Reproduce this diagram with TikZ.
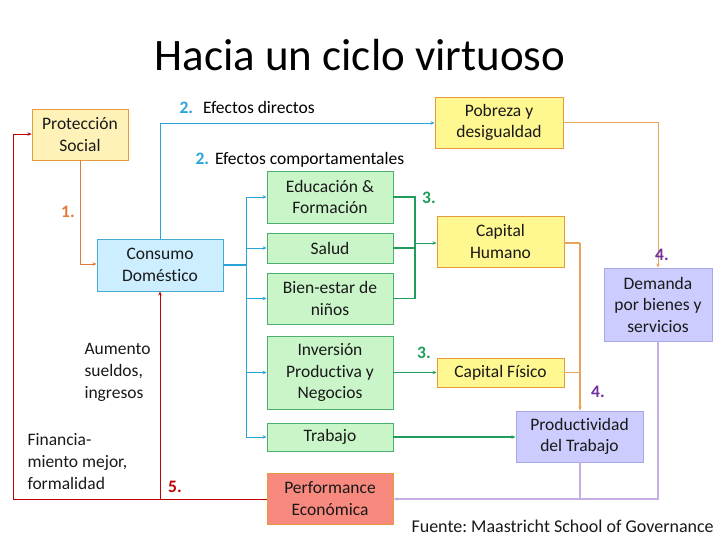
\documentclass[tikz,border=0pt]{standalone}
\usepackage{fontspec}
\setmainfont{Carlito}[Ligatures=NoCommon]
\usetikzlibrary{arrows.meta}
\frenchspacing
\definecolor{yfillA}{HTML}{FFF2B8}
\definecolor{yfill}{HTML}{FFF78F}
\definecolor{oborder}{HTML}{E69A3C}
\definecolor{gfill}{HTML}{C9F5C9}
\definecolor{gborder}{HTML}{4CB070}
\definecolor{bfill}{HTML}{CCEEFF}
\definecolor{bborder}{HTML}{45ABD2}
\definecolor{rfill}{HTML}{F8897E}
\definecolor{lfill}{HTML}{CCCCFF}
\definecolor{lborder}{HTML}{A8A8E8}
\definecolor{bline}{HTML}{2AA4D8}
\definecolor{gline}{HTML}{1E9E5A}
\definecolor{oline}{HTML}{E8A458}
\definecolor{o1line}{HTML}{E07B39}
\definecolor{rline}{HTML}{C00000}
\definecolor{pline}{HTML}{C4AEE2}
\definecolor{plabel}{HTML}{7030A0}
\begin{document}
\begin{tikzpicture}[x=1pt,y=-1pt,
  box/.style={draw, line width=0.9pt, inner sep=0pt, align=center, font=\fontsize{17.5}{21.5}\selectfont, text=black!90},
  ybox/.style={box, fill=yfill, draw=oborder},
  gbox/.style={box, fill=gfill, draw=gborder},
  lbox/.style={box, fill=lfill, draw=lborder},
  conn/.style={line width=0.9pt, -{Stealth[length=4pt,width=3.5pt]}},
  plain/.style={line width=0.9pt},
  num/.style={font=\fontsize{17.5}{20}\selectfont\bfseries},
  lbl/.style={font=\fontsize{17.5}{22}\selectfont, text=black!90}]
\useasboundingbox (0,0) rectangle (720,540);
\node[font=\fontsize{45}{50}\selectfont] (title) at (360,55) {Hacia un ciclo virtuoso};
% boxes
\node[ybox, fill=yfillA, minimum width=96pt, minimum height=51pt] (ps) at (80,134.5) {Protección\\Social};
\node[box, fill=bfill, draw=bborder, minimum width=126pt, minimum height=52pt] (cd) at (160,265) {Consumo\\Doméstico};
\node[ybox, minimum width=128pt, minimum height=51pt] (pd) at (499,122.5) {Pobreza y\\desigualdad};
\node[gbox, minimum width=126pt, minimum height=52pt] (ef) at (330,197) {Educación \&\\Formación};
\node[gbox, minimum width=126pt, minimum height=30pt] (sa) at (330,248) {Salud};
\node[gbox, minimum width=126pt, minimum height=51pt] (bn) at (330,298.5) {Bien-estar de\\niños};
\node[gbox, minimum width=126pt, minimum height=73pt] (ip) at (330,372.5) {Inversión\\Productiva y\\Negocios};
\node[gbox, minimum width=126pt, minimum height=28pt] (tr) at (330,437) {Trabajo};
\node[box, fill=rfill, draw=oborder, minimum width=126pt, minimum height=51pt] (pe) at (330,498.5) {Performance\\Económica};
\node[ybox, minimum width=127pt, minimum height=51pt] (ch) at (500.5,241.5) {Capital\\Humano};
\node[ybox, minimum width=127pt, minimum height=29pt] (cf) at (500.5,372.5) {Capital Físico};
\node[lbox, minimum width=108pt, minimum height=73pt] (dm) at (658,304.5) {Demanda\\por bienes y\\servicios};
\node[lbox, minimum width=127pt, minimum height=51pt] (pt) at (579.5,436.5) {Productividad\\del Trabajo};
% coordinates
\coordinate (b1) at (80,264);
\coordinate (rA) at (13,499);
\coordinate (rB) at (13,134);
\coordinate (rC) at (160,499);
\coordinate (bu1) at (160,123);
\coordinate (bx0) at (246,265);
\coordinate (bxT) at (246,197);
\coordinate (bxB) at (246,437);
\coordinate (gxT) at (415,197);
\coordinate (gxB) at (415,298.5);
\coordinate (gxM) at (415,243);
\coordinate (gxS) at (415,248);
\coordinate (o1) at (658,122.5);
\coordinate (o2) at (580,243);
\coordinate (o3) at (580,372.5);
\coordinate (p1) at (580,499);
\coordinate (p2) at (658,499);
% orange 1
\draw[conn, o1line] (ps.south) -- (b1) -- (cd.west |- b1);
% red 5
\draw[conn, rline] (pe.west |- rA) -- (rA) -- (rB) -- (ps.west |- rB);
\draw[conn, rline] (rC) -- (cd.south);
% blue direct
\draw[conn, bline] (cd.north) -- (bu1) -- (pd.west |- bu1);
% blue behavioural bus
\draw[plain, bline, line width=1.3pt] (cd.east) -- (bx0);
\draw[plain, bline] (bxT) -- (bxB);
\draw[conn, bline] (bxT) -- (ef.west);
\draw[conn, bline] (bxT |- sa.west) -- (sa.west);
\draw[conn, bline] (bxT |- bn.west) -- (bn.west);
\draw[conn, bline] (bxT |- ip.west) -- (ip.west);
\draw[conn, bline] (bxB) -- (tr.west);
% green
\draw[plain, gline, line width=1.3pt] (ef.east) -- (gxT) -- (gxB) -- (bn.east);
\draw[plain, gline, line width=1.3pt] (sa.east) -- (gxS);
\draw[conn, gline] (gxM) -- (ch.west |- gxM);
\draw[conn, gline, line width=1.3pt] (ip.east) -- (cf.west);
\draw[conn, gline, line width=1.3pt] (tr.east) -- (pt.west |- tr.east);
% orange to 4
\draw[conn, oline] (pd.east) -- (o1) -- (dm.north);
\draw[plain, oline, line width=1.3pt] (ch.east |- o2) -- (o2);
\draw[plain, oline, line width=1.3pt] (cf.east) -- (o3);
\draw[conn, oline, line width=1.3pt] (o2) -- (pt.north -| o2);
% purple back
\draw[plain, pline, line width=1.3pt] (pt.south -| p1) -- (p1);
\draw[conn, pline, line width=1.3pt] (dm.south) -- (p2) -- (pe.east |- p2);
% labels
\node[num, o1line] (n1) at (68,212) {1.};
\node[num, rline] (n5) at (175,487) {5.};
\node[anchor=west] (l2a) at (176,107) {\fontsize{17.5}{20}\selectfont{\bfseries\color{bline}2.}\hspace{10pt}Efectos directos};
\node[anchor=west] (l2b) at (192,160) {\fontsize{17.5}{20}\selectfont{\bfseries\color{bline}2.}\hspace{6pt}Efectos comportamentales};
\node[num, gline] (n3a) at (429,198) {3.};
\node[num, gline] (n3b) at (424,353) {3.};
\node[num, plabel] (n4a) at (662,255) {4.};
\node[num, plabel] (n4b) at (598,392) {4.};
\node[lbl, align=left, anchor=north west] (au) at (81,340) {Aumento\\sueldos,\\ingresos};
\node[lbl, align=left, anchor=north west] (fi) at (24,430) {Financia-\\miento mejor,\\formalidad};
\node[lbl, anchor=west, font=\fontsize{18}{22}\selectfont] (src) at (408,526) {Fuente: Maastricht School of Governance};
\end{tikzpicture}
\end{document}
